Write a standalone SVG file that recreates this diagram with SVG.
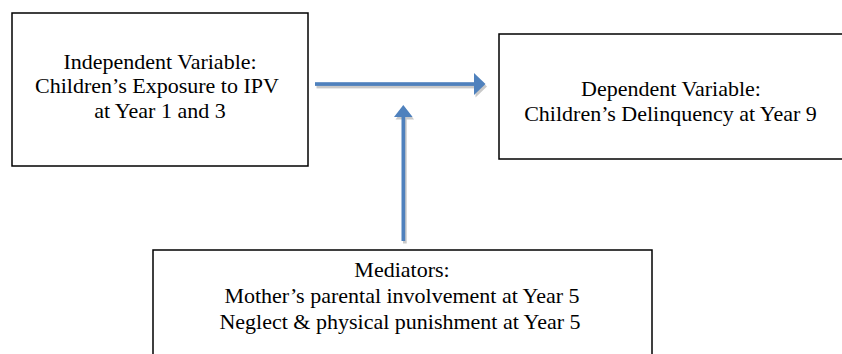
<svg xmlns="http://www.w3.org/2000/svg" width="842" height="354" viewBox="0 0 842 354">
<style>
.box{fill:#fff;stroke:#000;stroke-width:1.5}
text{font-family:'Liberation Serif','Times New Roman',Tinos,'Nimbus Roman','DejaVu Serif',serif;font-size:22px;fill:#000;text-anchor:middle}
.arr{fill:#4F81BD}
.sh{fill:#C9C9C9}
</style>
<rect width="842" height="354" fill="#fff"/>
<g id="independent" font-family="Liberation Serif, serif">
<rect class="box" x="12" y="13" width="296" height="153"/>
<text x="160" y="68.5">Independent Variable:</text>
<text x="157" y="93">Children’s Exposure to IPV</text>
<text x="160" y="117.5">at Year 1 and 3</text>
</g>
<g id="dependent">
<rect class="box" x="499" y="34" width="350" height="125"/>
<text x="671" y="95.5">Dependent Variable:</text>
<text x="670.5" y="121">Children’s Delinquency at Year 9</text>
</g>
<g id="mediators">
<rect class="box" x="153" y="250" width="499" height="115"/>
<text x="402" y="277">Mediators:</text>
<text x="402" y="303">Mother’s parental involvement at Year 5</text>
<text x="400" y="329">Neglect &amp; physical punishment at Year 5</text>
</g>
<g id="connectors">
<g transform="translate(1.5,2.5)" class="sh">
<rect x="315" y="82.2" width="160" height="3.7"/>
<polygon points="474,73 485.5,84 474,95"/>
<rect x="401.5" y="116" width="3.7" height="125"/>
<polygon points="394,117 403.3,105 412.6,117"/>
</g>
<g class="arr">
<rect x="315" y="82.2" width="160" height="3.7"/>
<polygon points="474,73 485.5,84 474,95"/>
<rect x="401.5" y="116" width="3.7" height="125"/>
<polygon points="394,117 403.3,105 412.6,117"/>
</g>
</g>
</svg>
